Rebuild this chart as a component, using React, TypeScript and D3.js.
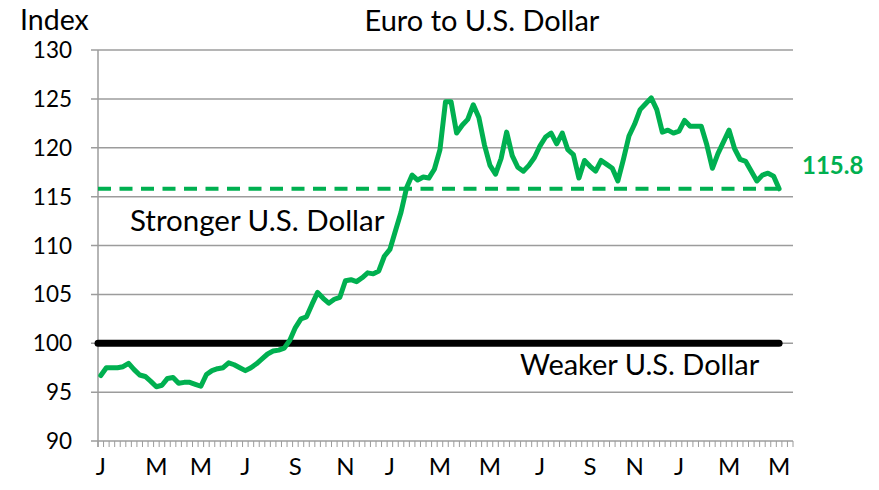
import React from "react";
import * as d3 from "d3";

// Weekly Euro-to-U.S.-Dollar index readings (Jan 2014 onward)
const values: number[] = [
  96.7, 97.5, 97.5, 97.5, 97.6, 97.95, 97.3, 96.75, 96.6, 96.1,
  95.55, 95.7, 96.4, 96.5, 95.9, 96.0, 96.0, 95.8, 95.6, 96.8,
  97.2, 97.4, 97.5, 98.0, 97.8, 97.5, 97.2, 97.5, 97.9, 98.4,
  98.9, 99.2, 99.3, 99.5, 100.3, 101.6, 102.5, 102.7, 104.0, 105.2,
  104.6, 104.1, 104.5, 104.7, 106.4, 106.5, 106.3, 106.7, 107.2, 107.1,
  107.4, 108.9, 109.6, 111.5, 113.4, 115.9, 117.2, 116.7, 117.0, 116.9,
  117.8, 119.8, 124.7, 124.7, 121.5, 122.3, 122.9, 124.4, 123.1, 120.3,
  118.2, 117.3, 118.9, 121.6, 119.2, 118.0, 117.6, 118.2, 119.0, 120.2,
  121.1, 121.5, 120.4, 121.5, 119.8, 119.3, 116.9, 118.7, 118.1, 117.6,
  118.7, 118.3, 117.9, 116.6, 118.8, 121.2, 122.4, 123.9, 124.5, 125.1,
  123.9, 121.6, 121.8, 121.5, 121.7, 122.8, 122.2, 122.2, 122.2, 120.3,
  117.9, 119.4, 120.6, 121.8, 119.9, 118.8, 118.6, 117.6, 116.6, 117.2,
  117.4, 117.1, 115.8,
];
const categoryCount = 125;
const monthLabels: string[] = ["J", "M", "M", "J", "S", "N", "J", "M", "M", "J", "S", "N", "J", "M", "M"];
const monthLabelWeeks: number[] = [0, 10, 18, 26, 35, 44, 52, 61, 70, 79, 88, 96, 104, 113, 122];
const yTicks: number[] = [90, 95, 100, 105, 110, 115, 120, 125, 130];
const baseline = 100;
const latest = 115.8;
const latestLabel = "115.8";

const GREEN = "#00b050";
const GRID = "#9c9c9c";
const FONT = "Lato, 'Open Sans', sans-serif";

export default function App() {
  const x = d3.scaleLinear().domain([0, categoryCount]).range([98, 793]);
  const y = d3.scaleLinear().domain([90, 130]).range([441, 50]);
  const cx = (i: number) => x(i + 0.5);

  const line = d3
    .line<number>()
    .x((_, i) => cx(i))
    .y((d) => y(d));

  const lastX = cx(values.length - 1);

  return (
    <svg
      width={879}
      height={490}
      style={{ position: "absolute", left: 0, top: 0, background: "#fff" }}
      fontFamily={FONT}
    >
      {/* gridlines */}
      {yTicks.map((t) => (
        <line key={"g" + t} x1={x(0) - 7} x2={x(categoryCount)} y1={y(t)} y2={y(t)} stroke={GRID} strokeWidth={1.5} />
      ))}
      {/* y axis */}
      <line x1={x(0)} x2={x(0)} y1={y(130)} y2={y(90) + 6} stroke={GRID} strokeWidth={1.5} />
      {yTicks.map((t) => (
        <text key={"yl" + t} x={72} y={y(t)} dy="0.36em" textAnchor="end" fontSize={22.5} fill="#000">
          {t}
        </text>
      ))}
      {/* x minor ticks */}
      {d3.range(categoryCount + 1).map((k) => (
        <line key={"xt" + k} x1={x(k)} x2={x(k)} y1={y(90)} y2={y(90) + 6} stroke={GRID} strokeWidth={1} />
      ))}
      {monthLabels.map((m, i) => (
        <text key={"xl" + i} x={cx(monthLabelWeeks[i])} y={475} textAnchor="middle" fontSize={24} fill="#000">
          {m}
        </text>
      ))}

      {/* baseline 100 */}
      <line
        x1={x(0)}
        x2={lastX}
        y1={y(baseline)}
        y2={y(baseline)}
        stroke="#000"
        strokeWidth={7}
        strokeLinecap="round"
      />
      {/* latest dashed */}
      <line
        x1={x(0)}
        x2={lastX}
        y1={y(latest)}
        y2={y(latest)}
        stroke={GREEN}
        strokeWidth={4}
        strokeDasharray="13 8.5"
      />
      {/* series */}
      <path d={line(values) || ""} fill="none" stroke={GREEN} strokeWidth={5} strokeLinejoin="round" strokeLinecap="round" />

      {/* texts */}
      <text x={20} y={30} fontSize={28.5} fill="#000">Index</text>
      <text x={482} y={31} textAnchor="middle" fontSize={29} fill="#000">Euro to U.S. Dollar</text>
      <text x={130} y={231} fontSize={29.5} fill="#000">Stronger U.S. Dollar</text>
      <text x={520} y={375} fontSize={29} fill="#000">Weaker U.S. Dollar</text>
      <text x={802} y={174} fontSize={24} fontWeight="bold" fill={GREEN}>{latestLabel}</text>
    </svg>
  );
}
